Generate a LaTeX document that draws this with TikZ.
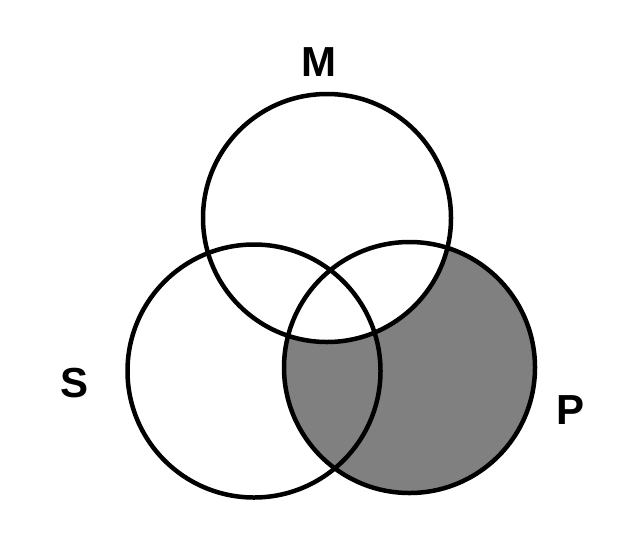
\documentclass[tikz,border=0pt]{standalone}
\usepackage{fontspec}
\setmainfont{Liberation Sans}
\usepackage{tikz}

\begin{document}
\begin{tikzpicture}[x=1pt,y=-1pt,line cap=round,
			ring/.style={line width=4.5pt},
			setname/.style={font=\fontsize{42}{42}\selectfont\bfseries,inner sep=0pt}]
			\useasboundingbox (0,0) rectangle (636,557);
			\coordinate (cM) at (327,218);
			\coordinate (cS) at (254,371);
			\coordinate (cP) at (409.5,367.5);
			%\fill[gray] (cS) circle (126);
			\fill[gray] (cP) circle (125.5);
			\fill[white] (cM) circle (124);
			\draw[ring] (cM) circle (124);
			\draw[ring] (cS) circle (126.5);
			\draw[ring] (cP) circle (125.5);
			\node[setname] (M) at (318.5,62) {M};
			\node[setname] (S) at (75,383) {S};
			\node[setname] (P) at (570,410) {P};
		\end{tikzpicture}
\end{document}
